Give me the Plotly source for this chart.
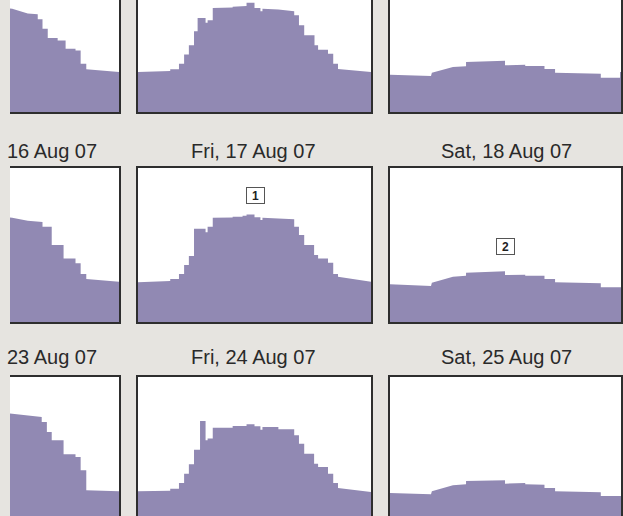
import plotly.graph_objects as go

# ---------------- data (hours of day, relative level 0-100) ----------------
t_thu09 = [12.6, 13.0, 14.6, 15.63, 15.63, 16.12, 16.12, 16.66, 16.66, 17.68, 17.68, 18.5, 18.5, 19.52, 19.52, 20.05, 20.05, 20.63, 20.63, 24]
v_thu09 = [67.3, 67.0, 63.9, 63.4, 60.2, 60.2, 54.1, 54.1, 48.1, 48.1, 46.5, 46.5, 41.1, 41.1, 40.0, 40.0, 31.4, 31.4, 27.7, 26.0]

t_fri10 = [0, 3.32, 3.32, 4.22, 4.22, 4.75, 4.75, 5.24, 5.24, 5.77, 5.77, 6.14, 6.14, 6.96, 6.96, 7.17, 7.17, 7.70, 7.70, 9.75, 9.75, 10.77, 10.77, 11.18, 11.18, 12.00, 12.00, 12.61, 12.61, 12.82, 12.82, 14.46, 16.09, 16.09, 16.58, 16.58, 17.12, 17.12, 18.18, 18.18, 18.55, 18.55, 19.57, 19.57, 20.11, 20.11, 20.60, 20.60, 24]
v_fri10 = [26.0, 26.6, 27.7, 27.7, 31.4, 31.4, 37.4, 37.4, 43.3, 43.3, 52.5, 52.5, 61.0, 61.0, 58.0, 58.0, 59.5, 59.5, 67.5, 67.8, 68.4, 68.4, 68.8, 68.8, 71.0, 71.0, 67.5, 67.5, 65.4, 65.4, 67.0, 66.5, 65.4, 62.8, 62.8, 56.3, 56.3, 49.8, 49.8, 43.3, 43.3, 40.5, 40.5, 37.9, 37.9, 31.4, 31.4, 28.0, 26.0]

t_sat11 = [0, 4.26, 4.35, 6.54, 7.9, 7.9, 11.95, 11.95, 14.05, 14.05, 16.05, 16.05, 17.15, 17.15, 21.9, 21.9, 23.9, 23.9, 24]
v_sat11 = [24.2, 23.4, 25.5, 29.2, 29.7, 32.5, 33.3, 30.3, 30.7, 29.9, 29.9, 27.9, 27.9, 25.5, 24.9, 22.3, 22.3, 26.0, 26.0]

t_thu16 = [12.6, 13.0, 14.6, 16.12, 16.12, 17.07, 17.07, 18.29, 18.29, 19.52, 19.52, 20.05, 20.05, 20.63, 20.63, 24]
v_thu16 = [67.9, 67.7, 65.8, 65.0, 61.9, 61.9, 50.0, 50.0, 41.3, 41.3, 38.1, 38.1, 31.2, 31.2, 27.9, 26.2]

t_fri17 = [0, 3.32, 3.32, 4.22, 4.22, 4.75, 4.75, 5.24, 5.24, 5.77, 5.77, 6.96, 6.96, 7.17, 7.17, 7.70, 7.70, 9.75, 9.75, 10.77, 10.77, 11.18, 11.18, 12.00, 12.00, 12.61, 12.61, 12.82, 12.82, 16.09, 16.09, 16.58, 16.58, 17.12, 17.12, 18.14, 18.14, 18.55, 18.55, 19.57, 19.57, 20.11, 20.11, 20.60, 20.60, 24]
v_fri17 = [25.8, 26.6, 27.9, 27.9, 31.2, 31.2, 37.0, 37.0, 42.9, 42.9, 60.6, 60.6, 58.2, 58.2, 61.9, 61.9, 67.7, 67.9, 68.4, 68.4, 69.0, 69.0, 69.8, 69.8, 68.0, 68.0, 66.2, 66.2, 67.7, 66.7, 61.9, 61.9, 56.5, 56.5, 50.0, 50.0, 43.5, 43.5, 41.3, 41.3, 38.5, 38.5, 31.2, 31.2, 29.4, 26.2]

t_sat18 = [0, 4.26, 4.35, 6.54, 7.9, 7.9, 11.95, 11.95, 14.05, 14.05, 16.05, 16.05, 17.15, 17.15, 21.9, 21.9, 24]
v_sat18 = [24.5, 23.4, 25.5, 29.4, 30.1, 32.0, 32.9, 30.5, 30.7, 30.1, 30.1, 27.9, 27.9, 25.8, 25.1, 22.5, 22.5]

t_thu23 = [12.6, 16.04, 16.04, 16.57, 16.57, 17.07, 17.07, 18.29, 18.29, 19.52, 19.52, 20.05, 20.05, 20.63, 20.63, 24]
v_thu23 = [76.4, 74.0, 70.8, 70.8, 64.3, 64.3, 58.9, 58.9, 49.8, 49.8, 48.0, 48.0, 39.4, 39.4, 26.4, 25.8]

t_fri24 = [0, 3.32, 3.32, 4.22, 4.22, 4.75, 4.75, 5.24, 5.24, 5.77, 5.77, 6.39, 6.39, 6.96, 6.96, 7.17, 7.17, 7.70, 7.70, 9.75, 9.75, 11.18, 11.18, 12.00, 12.00, 12.61, 12.61, 12.82, 12.82, 14.46, 14.46, 16.09, 16.09, 16.58, 16.58, 17.12, 17.12, 18.14, 18.14, 18.55, 18.55, 19.57, 19.57, 20.11, 20.11, 20.60, 20.60, 24]
v_fri24 = [25.8, 26.2, 27.5, 27.5, 31.2, 31.2, 37.2, 37.2, 43.3, 43.3, 52.8, 52.8, 71.4, 71.4, 58.9, 58.9, 60.0, 60.0, 67.1, 67.1, 68.2, 68.2, 69.3, 69.3, 68.0, 68.0, 65.8, 65.8, 67.5, 67.5, 66.0, 66.0, 62.1, 62.1, 56.7, 56.7, 50.2, 50.2, 43.7, 43.7, 41.6, 41.6, 37.2, 37.2, 31.2, 31.2, 28.0, 25.3]

t_sat25 = [0, 4.26, 4.35, 6.54, 7.9, 7.9, 11.95, 11.95, 14.05, 14.05, 16.05, 16.05, 17.15, 17.15, 21.9, 21.9, 24]
v_sat25 = [24.7, 23.8, 25.8, 29.7, 30.3, 32.5, 32.9, 30.7, 31.2, 30.3, 30.1, 27.9, 27.9, 25.8, 25.1, 22.7, 22.7]

titles_row2 = ["16 Aug 07", "Fri, 17 Aug 07", "Sat, 18 Aug 07"]
titles_row3 = ["23 Aug 07", "Fri, 24 Aug 07", "Sat, 25 Aug 07"]
markers = ["1", "2"]

# ---------------- layout geometry (pixels) ----------------
W, H = 623, 516
FILL = "#9189b3"
BG = "#e6e4e0"
EDGE = "#2e2e2e"

panels = [
    [(t_thu09, v_thu09), (t_fri10, v_fri10), (t_sat11, v_sat11)],
    [(t_thu16, v_thu16), (t_fri17, v_fri17), (t_sat18, v_sat18)],
    [(t_thu23, v_thu23), (t_fri24, v_fri24), (t_sat25, v_sat25)],
]

col_px = [(10, 119), (138, 371), (390, 621)]
col_range = [[(10 + 114) / 233 * 24, 24], [0, 24], [0, 24]]
row_px = [(0, 112), (168, 322), (377, 516)]
row_range = [[0, 112 / 154 * 100], [0, 100], [(531 - 516) / 154 * 100, 100]]

fig = go.Figure()
layout = dict(
    width=W, height=H,
    margin=dict(l=0, r=0, t=0, b=0),
    paper_bgcolor=BG, plot_bgcolor="white",
    showlegend=False,
    font=dict(family="Liberation Sans, Arial, sans-serif", color="#2a2a2a"),
)

k = 0
for r in range(3):
    for c in range(3):
        k += 1
        xa = "x" if k == 1 else f"x{k}"
        ya = "y" if k == 1 else f"y{k}"
        t, v = panels[r][c]
        fig.add_trace(go.Scatter(
            x=t, y=v, mode="lines", line=dict(width=0, color=FILL),
            fill="tozeroy", fillcolor=FILL, xaxis=xa, yaxis=ya,
            hoverinfo="skip"))
        x0, x1 = col_px[c]
        y0, y1 = row_px[r]
        xkey = "xaxis" if k == 1 else f"xaxis{k}"
        ykey = "yaxis" if k == 1 else f"yaxis{k}"
        xaxis = dict(domain=[x0 / W, x1 / W], range=col_range[c], anchor=ya,
                     showgrid=False, zeroline=False, showticklabels=False, ticks="",
                     showline=True, linecolor=EDGE, linewidth=2, fixedrange=True)
        if r == 0:
            xaxis.update(side="bottom", mirror=False)
        elif r == 1:
            xaxis.update(mirror=True)
        else:
            xaxis.update(side="top", mirror=False)
        yaxis = dict(domain=[1 - y1 / H, 1 - y0 / H], range=row_range[r], anchor=xa,
                     showgrid=False, zeroline=False, showticklabels=False, ticks="",
                     showline=True, linecolor=EDGE, linewidth=2, fixedrange=True)
        if c == 0:
            yaxis.update(side="right", mirror=False)
        else:
            yaxis.update(mirror=True)
        layout[xkey] = xaxis
        layout[ykey] = yaxis

annotations = []
for titles, yc in ((titles_row2, 151), (titles_row3, 357)):
    annotations.append(dict(text=titles[0], x=99 / W, y=1 - yc / H, xref="paper", yref="paper",
                            xanchor="right", yanchor="middle", showarrow=False,
                            font=dict(size=20)))
    annotations.append(dict(text=titles[1], x=253.5 / W, y=1 - yc / H, xref="paper", yref="paper",
                            xanchor="center", yanchor="middle", showarrow=False,
                            font=dict(size=20)))
    annotations.append(dict(text=titles[2], x=506.5 / W, y=1 - yc / H, xref="paper", yref="paper",
                            xanchor="center", yanchor="middle", showarrow=False,
                            font=dict(size=20)))

for m, (px, py) in zip(markers, [(255, 195), (505.5, 246.5)]):
    annotations.append(dict(text=f"<b>{m}</b>", x=px / W, y=1 - py / H, xref="paper", yref="paper",
                            xanchor="center", yanchor="middle", showarrow=False,
                            font=dict(size=12, color="#222"), bgcolor="white",
                            bordercolor="#555", borderwidth=1, borderpad=1,
                            width=15, height=13))

layout["annotations"] = annotations
fig.update_layout(**layout)
fig.write_html(
    "out.html",
    config={"displayModeBar": False, "staticPlot": True},
    post_script="document.body.style.margin='0';document.body.style.overflow='hidden';"
                "document.body.style.background='" + BG + "';",
)
